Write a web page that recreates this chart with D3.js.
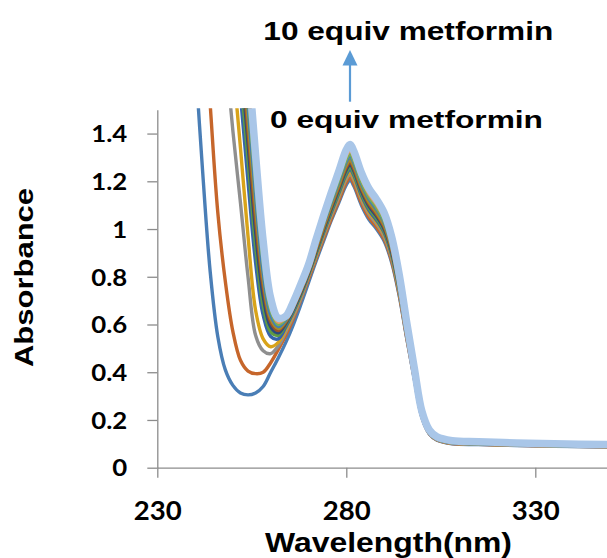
<!DOCTYPE html>
<html>
<head>
<meta charset="utf-8">
<script src="https://cdn.jsdelivr.net/npm/d3@7"></script>
<style>
  body { margin: 0; background: #fff; }
  svg { display: block; }
</style>
</head>
<body>
<svg id="chart" width="607" height="558"></svg>
<script>
// wavelengths (nm) shared by every spectrum
const wavelengths = [240, 242, 244, 246, 248, 250, 252, 254, 256, 258, 260, 262, 264, 266, 268, 270,
  272, 274, 276, 278, 280, 281, 282, 284, 286, 288, 290, 292, 294, 296, 298, 300, 302, 304, 308, 315, 325, 335, 350]

// absorbance, from 0 equiv (a0) up to 10 equiv metformin (a12)
const a0 = [1.72, 1.24, 0.82, 0.55, 0.41, 0.345, 0.313, 0.305, 0.313, 0.34, 0.40, 0.46, 0.525, 0.60, 0.685, 0.775,
  0.865, 0.95, 1.035, 1.11, 1.185, 1.205, 1.18, 1.10, 1.04, 1.00, 0.95, 0.86, 0.72, 0.54, 0.37, 0.21, 0.14, 0.115, 0.100, 0.097, 0.093, 0.090, 0.086]
const a1 = [2.5, 2.0, 1.52, 1.07, 0.78, 0.57, 0.45, 0.405, 0.394, 0.40, 0.44, 0.495, 0.555, 0.625, 0.705, 0.79,
  0.876, 0.961, 1.042, 1.118, 1.195, 1.215, 1.189, 1.109, 1.048, 1.008, 0.958, 0.867, 0.726, 0.544, 0.373, 0.212, 0.141, 0.116, 0.101, 0.098, 0.094, 0.091, 0.087]
const a2 = [3.3, 2.8, 2.45, 2.1, 1.75, 1.41, 1.11, 0.80, 0.555, 0.49, 0.478, 0.51, 0.57, 0.635, 0.71, 0.80,
  0.885, 0.972, 1.055, 1.132, 1.210, 1.230, 1.205, 1.123, 1.062, 1.021, 0.970, 0.878, 0.735, 0.551, 0.378, 0.214, 0.143, 0.117, 0.102, 0.099, 0.095, 0.091, 0.087]
const a3 = [3.6, 3.1, 2.75, 2.4, 2.05, 1.70, 1.34, 0.97, 0.66, 0.54, 0.507, 0.525, 0.58, 0.645, 0.72, 0.805,
  0.890, 0.979, 1.062, 1.141, 1.219, 1.240, 1.214, 1.132, 1.070, 1.029, 0.978, 0.885, 0.741, 0.556, 0.381, 0.216, 0.144, 0.118, 0.103, 0.099, 0.095, 0.092, 0.088]
const a4 = [4.4, 3.8, 3.3, 2.85, 2.4, 1.95, 1.56, 1.2, 0.86, 0.64, 0.55, 0.54, 0.59, 0.652, 0.725, 0.808,
  0.896, 0.985, 1.069, 1.149, 1.229, 1.250, 1.224, 1.141, 1.078, 1.037, 0.985, 0.892, 0.747, 0.560, 0.384, 0.218, 0.145, 0.119, 0.104, 0.100, 0.096, 0.093, 0.089]
const a5 = [4.6, 4.0, 3.45, 2.95, 2.5, 2.05, 1.65, 1.29, 0.93, 0.68, 0.57, 0.555, 0.60, 0.66, 0.73, 0.812,
  0.901, 0.992, 1.077, 1.157, 1.238, 1.259, 1.233, 1.150, 1.087, 1.045, 0.993, 0.899, 0.752, 0.564, 0.387, 0.219, 0.146, 0.120, 0.105, 0.101, 0.097, 0.093, 0.089]
const a6 = [4.7, 4.1, 3.55, 3.05, 2.6, 2.15, 1.73, 1.36, 0.99, 0.72, 0.59, 0.565, 0.605, 0.665, 0.735, 0.816,
  0.908, 0.999, 1.085, 1.167, 1.249, 1.270, 1.244, 1.159, 1.096, 1.054, 1.001, 0.906, 0.759, 0.569, 0.390, 0.221, 0.148, 0.121, 0.106, 0.102, 0.098, 0.094, 0.090]
const a7 = [4.8, 4.2, 3.6, 3.1, 2.65, 2.2, 1.79, 1.41, 1.04, 0.76, 0.61, 0.575, 0.61, 0.67, 0.74, 0.82,
  0.913, 1.005, 1.093, 1.175, 1.258, 1.280, 1.253, 1.168, 1.104, 1.062, 1.009, 0.913, 0.765, 0.573, 0.393, 0.223, 0.149, 0.122, 0.107, 0.103, 0.099, 0.095, 0.091]
const a8 = [4.9, 4.3, 3.7, 3.15, 2.7, 2.25, 1.85, 1.46, 1.09, 0.79, 0.625, 0.583, 0.615, 0.675, 0.745, 0.825,
  0.919, 1.012, 1.100, 1.184, 1.268, 1.289, 1.263, 1.177, 1.113, 1.070, 1.017, 0.920, 0.770, 0.578, 0.396, 0.225, 0.150, 0.123, 0.108, 0.104, 0.100, 0.096, 0.092]
const a9 = [5.0, 4.4, 3.8, 3.2, 2.75, 2.3, 1.9, 1.52, 1.14, 0.82, 0.64, 0.591, 0.62, 0.68, 0.75, 0.83,
  0.928, 1.022, 1.112, 1.198, 1.283, 1.305, 1.278, 1.191, 1.126, 1.083, 1.029, 0.931, 0.780, 0.585, 0.401, 0.227, 0.152, 0.124, 0.109, 0.105, 0.100, 0.097, 0.093]
const a10 = [5.1, 4.5, 3.9, 3.3, 2.8, 2.35, 1.95, 1.57, 1.19, 0.86, 0.66, 0.60, 0.625, 0.685, 0.755, 0.836,
  0.933, 1.029, 1.120, 1.206, 1.293, 1.315, 1.287, 1.200, 1.135, 1.091, 1.036, 0.938, 0.786, 0.589, 0.404, 0.229, 0.153, 0.125, 0.110, 0.106, 0.101, 0.098, 0.094]
const a11 = [5.2, 4.6, 4.0, 3.4, 2.85, 2.4, 2.0, 1.62, 1.24, 0.90, 0.68, 0.61, 0.63, 0.69, 0.76, 0.842,
  0.942, 1.039, 1.131, 1.219, 1.307, 1.329, 1.302, 1.213, 1.147, 1.103, 1.048, 0.949, 0.794, 0.596, 0.408, 0.232, 0.154, 0.127, 0.111, 0.107, 0.102, 0.099, 0.095]
const a12 = [5.4, 4.8, 4.2, 3.6, 2.95, 2.5, 2.1, 1.71, 1.31, 0.95, 0.71, 0.627, 0.635, 0.695, 0.77, 0.85,
  0.956, 1.056, 1.151, 1.241, 1.332, 1.354, 1.326, 1.236, 1.169, 1.124, 1.068, 0.967, 0.809, 0.607, 0.416, 0.236, 0.157, 0.129, 0.113, 0.109, 0.104, 0.100, 0.097]

const spectra = [a0, a1, a2, a3, a4, a5, a6, a7, a8, a9, a10, a11, a12]
const seriesColors = ['#4a7eb6', '#c6662b', '#8f8f8f', '#d8a31a', '#3564ac', '#609b42', '#2a4a7e',
  '#9c5126', '#a58a2c', '#3f7fb8', '#7aae55', '#e89a6c', '#a9c6e8']

const xTicks = [230, 280, 330]
const yTicks = [0, 0.2, 0.4, 0.6, 0.8, 1, 1.2, 1.4]
const yTickLabels = ['0', '0.2', '0.4', '0.6', '0.8', '1', '1.2', '1.4']

const svg = d3.select('#chart')
const axisColor = '#8c8c8c'
const titleFont = '"Liberation Sans", Arial, sans-serif'
const tickFont = 'Lato, "Open Sans", sans-serif'

const x = d3.scaleLinear().domain([230, 350]).range([157.3, 610.9])
const y = d3.scaleLinear().domain([0, 1.5]).range([467.7, 109.7])

// stretch text along its baseline (the original rendering is wider than the font)
function stretch(sel, k) {
  sel.each(function() {
    const len = this.getComputedTextLength()
    d3.select(this).attr('textLength', len * k).attr('lengthAdjust', 'spacingAndGlyphs')
  })
}

svg.append('clipPath').attr('id', 'plot-clip')
  .append('rect')
  .attr('x', x(230)).attr('y', y(1.5) - 1.5)
  .attr('width', x(350) - x(230)).attr('height', y(0) - y(1.5) + 1.5)

// axes
const yAxis = svg.append('g')
  .attr('transform', `translate(${x(230)},0)`)
  .call(d3.axisLeft(y).tickValues(yTicks).tickFormat((d, i) => yTickLabels[i])
    .tickSize(10).tickPadding(20).tickSizeOuter(0))
yAxis.selectAll('path, line').attr('stroke', axisColor).attr('stroke-width', 1.3)
yAxis.selectAll('text')
  .attr('fill', '#000').attr('font-family', tickFont).attr('font-weight', 700).attr('font-size', 23)
  .attr('dy', '0.36em')
  .call(stretch, 1.12)

const xAxis = svg.append('g')
  .attr('transform', `translate(0,${y(0)})`)
  .call(d3.axisBottom(x).tickValues(xTicks).tickFormat(d3.format('d'))
    .tickSize(10).tickSizeOuter(0))
xAxis.selectAll('path, line').attr('stroke', axisColor).attr('stroke-width', 1.3)
xAxis.selectAll('text')
  .attr('fill', '#000').attr('font-family', tickFont).attr('font-weight', 700).attr('font-size', 26)
  .attr('y', 52).attr('dy', 0)
  .call(stretch, 1.06)

// spectra
const line = d3.line()
  .x((d, i) => x(wavelengths[i]))
  .y(d => y(d))
  .curve(d3.curveCatmullRom.alpha(0.5))

svg.append('g').attr('clip-path', 'url(#plot-clip)')
  .selectAll('path')
  .data(spectra)
  .join('path')
  .attr('d', d => line(d))
  .attr('fill', 'none')
  .attr('stroke', (d, i) => seriesColors[i])
  .attr('stroke-width', (d, i) => i === spectra.length - 1 ? 7.5 : 3.4)
  .attr('stroke-linejoin', 'round')

// axis titles
svg.append('text')
  .attr('transform', 'translate(33,277.5) rotate(-90)')
  .attr('text-anchor', 'middle')
  .attr('font-family', titleFont).attr('font-weight', 700).attr('font-size', 25)
  .attr('textLength', 179).attr('lengthAdjust', 'spacingAndGlyphs')
  .text('Absorbance')

svg.append('text')
  .attr('x', 388.5).attr('y', 551.5)
  .attr('text-anchor', 'middle')
  .attr('font-family', titleFont).attr('font-weight', 700).attr('font-size', 28)
  .attr('textLength', 247).attr('lengthAdjust', 'spacingAndGlyphs')
  .text('Wavelength(nm)')

// annotation
svg.append('text')
  .attr('x', 263.3).attr('y', 40)
  .attr('font-family', titleFont).attr('font-weight', 700).attr('font-size', 25)
  .attr('textLength', 290).attr('lengthAdjust', 'spacingAndGlyphs')
  .text('10 equiv metformin')

svg.append('text')
  .attr('x', 270).attr('y', 128.3)
  .attr('font-family', titleFont).attr('font-weight', 700).attr('font-size', 24)
  .attr('textLength', 273).attr('lengthAdjust', 'spacingAndGlyphs')
  .text('0 equiv metformin')

svg.append('line')
  .attr('x1', 350).attr('y1', 101.7).attr('x2', 350).attr('y2', 63)
  .attr('stroke', '#5b9bd5').attr('stroke-width', 2.2)
svg.append('path')
  .attr('d', 'M350,50 L342.5,65.5 L357.5,65.5 Z')
  .attr('fill', '#5b9bd5')
</script>
</body>
</html>
